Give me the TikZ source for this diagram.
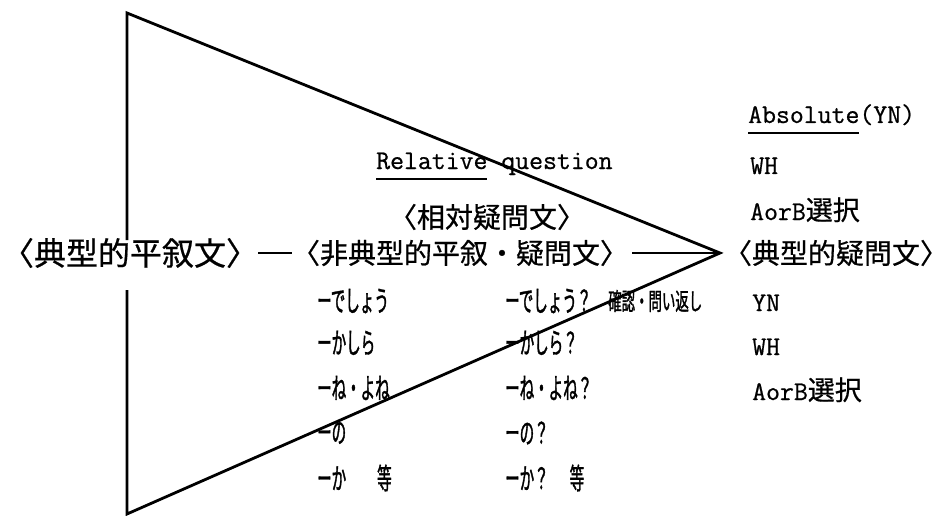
\documentclass[tikz,border=0pt]{standalone}
\usepackage{fontspec}
\newfontfamily\jp{Noto Sans CJK JP}[FakeBold=0.6]
\newfontfamily\jpn{Noto Sans CJK JP}[FakeStretch=0.5, FakeBold=1.2]
\newfontfamily\jpm{Noto Sans CJK JP}[FakeStretch=0.56, FakeBold=1.2]
\newfontfamily\lmt{Latin Modern Mono}[FakeBold=0.7]
\newcommand\myul[1]{\setbox0\hbox{#1}\rlap{\vrule width\wd0 height -9pt depth 11pt}\box0\relax}
\begin{document}
\begin{tikzpicture}[x=1pt,y=-1pt,
  big/.style={font=\jp\fontsize{28}{28}\selectfont, inner sep=0},
  lat/.style={font=\lmt\fontsize{27}{27}\selectfont, inner sep=0, anchor=base west},
  kana/.style={font=\jpn\fontsize{29}{29}\selectfont, inner sep=0, anchor=west},
  tri/.style={line width=2.8pt, line join=miter},
  link/.style={line width=1.7pt}]
\useasboundingbox (0,0) rectangle (948,516);
% triangle
\coordinate (TL) at (127,13);
\coordinate (BL) at (127,514);
\coordinate (AP) at (720,253);
\coordinate (G1) at (127,240);
\coordinate (G2) at (127,290);
\draw[tri] (G1) -- (TL) -- (AP) -- (BL) -- (G2);
% main row
\node[big, font=\jp\fontsize{32}{32}\selectfont] (decl) at (130,253) {〈典型的平叙文〉};
\node[big] (mid) at (460,253) {〈非典型的平叙・疑問文〉};
\node[big] (ques) at (836,253) {〈典型的疑問文〉};
\draw[link] (decl.east) -- (mid.west);
\draw[link] ([xshift=4pt]mid.east) -- (AP);
% relative question
\node[lat] (rel) at (376,169) {\myul{Relative} question};
\node[big] (relj) at (487,217) {〈相対疑問文〉};
% absolute column
\node[lat] (abs) at (748,123) {\myul{Absolute}(YN)};
\node[lat] (wh1) at (750,174) {WH};
\node[lat] (ab1) at (750,220) {AorB{\jp 選択}};
\node[lat] (yn2) at (752,311) {YN};
\node[lat] (wh2) at (752,355) {WH};
\node[lat] (ab2) at (752,400) {AorB{\jp 選択}};
% left kana column
\node[kana] (l1) at (317,301) {ーでしょう};
\node[kana] (l2) at (317,343) {ーかしら};
\node[kana] (l3) at (317,388) {ーね・よね};
\node[kana] (l4) at (317,433) {ーの};
\node[kana] (l5) at (317,478) {ーか\hspace{31pt}等};
% middle kana column
\node[kana] (m1) at (505,301) {ーでしょう？};
\node[kana, font=\jpm\fontsize{24}{24}\selectfont] (m1b) at (608,301) {確認・問い返し};
\node[kana] (m2) at (505,343) {ーかしら？};
\node[kana] (m3) at (505,388) {ーね・よね？};
\node[kana] (m4) at (505,433) {ーの？};
\node[kana] (m5) at (505,478) {ーか？\hspace{21pt}等};
\end{tikzpicture}
\end{document}
